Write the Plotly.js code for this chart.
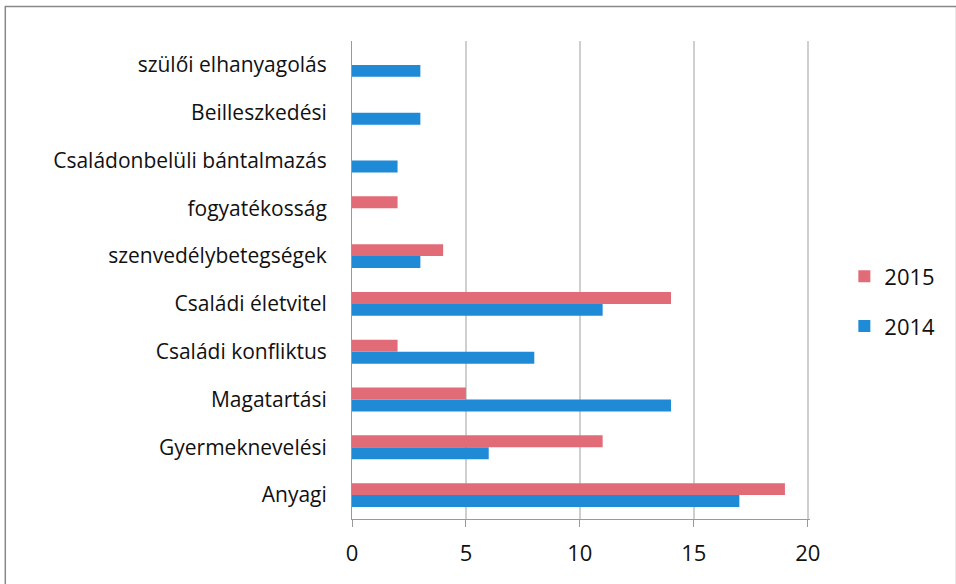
<!DOCTYPE html>
<html>
<head>
<meta charset="utf-8">
<script src="https://cdn.plot.ly/plotly-3.0.1.min.js"></script>
<style>html,body{margin:0;padding:0;background:#fff;}#chart{width:956px;height:584px;}</style>
</head>
<body>
<div id="chart"></div>
<script>
const categories = ["Anyagi","Gyermeknevelési","Magatartási","Családi konfliktus","Családi életvitel","szenvedélybetegségek","fogyatékosság","Családonbelüli bántalmazás","Beilleszkedési","szülői elhanyagolás"];
const values2015 = [19, 11, 5, 2, 14, 4, 2, 0, 0, 0];
const values2014 = [17, 6, 14, 8, 11, 3, 0, 2, 3, 3];
const tickVals = [0, 5, 10, 15, 20];

const data = [
  {type:'bar', orientation:'h', name:'2014', legendgroup:'a', legendrank:2, y:categories, x:values2014, marker:{color:'#1f8ad6'}},
  {type:'bar', orientation:'h', name:'2015', legendgroup:'b', legendrank:1, y:categories, x:values2015, marker:{color:'#e26b78'}}
];
const layout = {
  width:956, height:584,
  margin:{l:352, r:146, t:41, b:65},
  paper_bgcolor:'#fff', plot_bgcolor:'#fff',
  font:{family:'"Open Sans", "Noto Sans", sans-serif', color:'#111', size:21},
  barmode:'group', bargap:0.5, bargroupgap:0,
  xaxis:{range:[0,20.1], tickvals:tickVals, ticktext:tickVals.map(String), showgrid:true, gridcolor:'#cfcfcf', gridwidth:1.5,
         zeroline:false, showline:true, linecolor:'#9a9a9a', ticks:'outside', ticklen:7, tickcolor:'#9a9a9a', ticklabelstandoff:8, tickfont:{size:22}},
  yaxis:{type:'category', categoryorder:'array', categoryarray:categories, showline:true, linecolor:'#9a9a9a', ticks:'', ticklabelstandoff:20, tickfont:{size:21}},
  showlegend:true,
  legend:{traceorder:'grouped', tracegroupgap:18, x:1.075, y:0.455, xanchor:'left', yanchor:'middle', font:{size:22}, bgcolor:'rgba(0,0,0,0)'},
  shapes:[{type:'rect', xref:'paper', yref:'paper', x0:-0.757, x1:1.32, y0:-0.145, y1:1.072, line:{color:'#888', width:1.5}, fillcolor:'rgba(0,0,0,0)'}]
};
Plotly.newPlot('chart', data, layout, {displayModeBar:false});
</script>
</body>
</html>
